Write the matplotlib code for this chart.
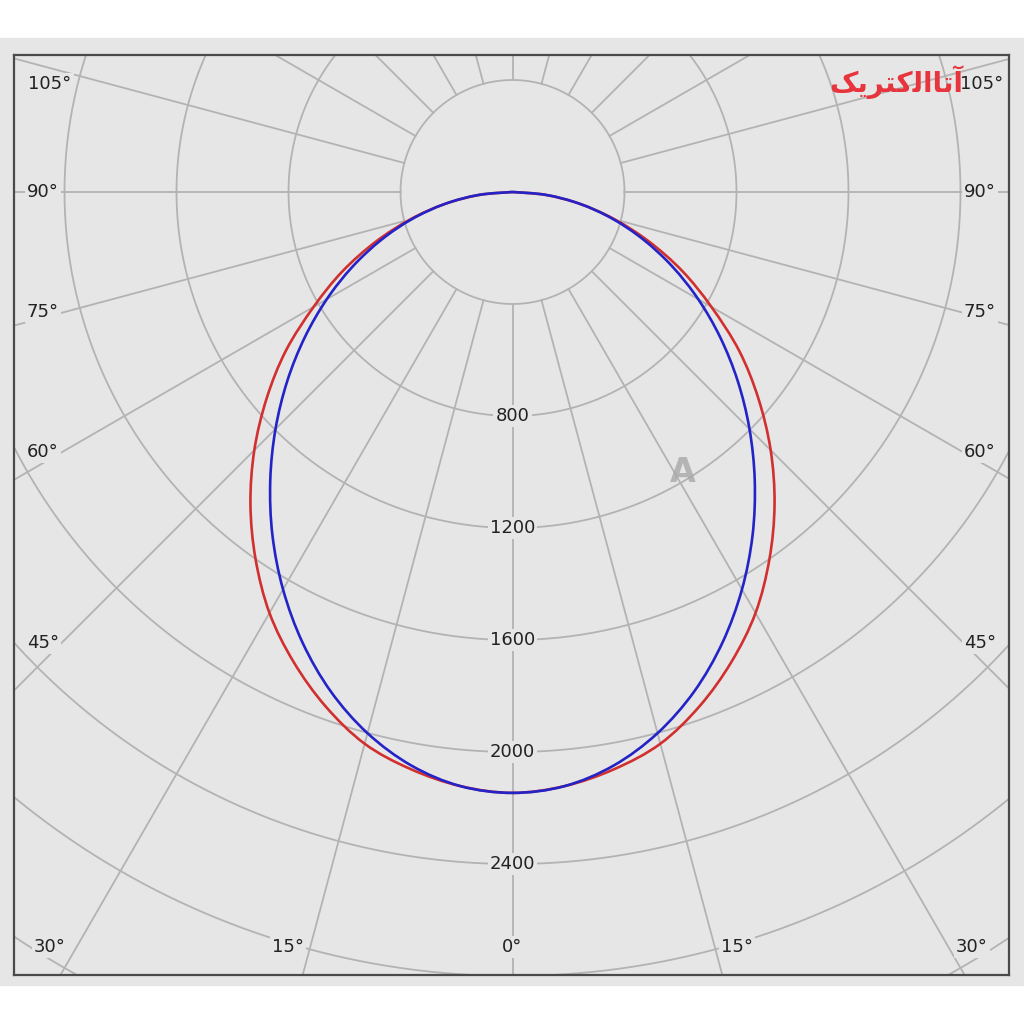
import numpy as np
import matplotlib.pyplot as plt
from matplotlib.patches import Rectangle, PathPatch
from matplotlib.path import Path

# luminous intensity (cd), symmetric about 0 deg
angles = [0, 5, 10, 15, 20, 25, 30, 35, 40, 45, 50, 55, 60, 65, 70, 75, 80, 85, 90]
red_cd = [2146, 2130, 2093, 2040, 1954, 1851, 1736, 1600, 1456, 1304, 1146, 988, 820, 670, 520, 378, 245, 118, 0]
blue_cd = [2146, 2130, 2080, 2001, 1898, 1775, 1639, 1495, 1346, 1197, 1050, 906, 766, 630, 498, 370, 245, 122, 0]

ring_values = [400, 800, 1200, 1600, 2000, 2400, 2800, 3200, 3600, 4000]
ring_labels = [800, 1200, 1600, 2000, 2400]
spoke_angles = np.arange(0, 360, 15)

bg = "#e6e6e6"
grid_c = "#b3b3b3"

# pixel <-> data helpers (center of the diagram at pixel 512.5, 192)
cx, cy = 512.5, 192.0
k = 400 / 112.0  # cd per pixel


def px(x, y):
    return (x - cx) * k, (cy - y) * k


def smooth_path(xs, ys):
    # catmull-rom through the points, drawn as cubic bezier segments
    P = np.column_stack([xs, ys])
    verts = [P[0]]
    codes = [Path.MOVETO]
    n = len(P)
    for i in range(n - 1):
        p0 = P[max(i - 1, 0)]
        p1 = P[i]
        p2 = P[i + 1]
        p3 = P[min(i + 2, n - 1)]
        verts += [p1 + (p2 - p0) / 6, p2 - (p3 - p1) / 6, p2]
        codes += [Path.CURVE4] * 3
    return Path(verts, codes)


fig = plt.figure(figsize=(10.24, 10.24), dpi=100)
fig.patch.set_facecolor("white")
fig.add_artist(Rectangle((0, 1 - 985 / 1024), 1, (985 - 38) / 1024,
                         transform=fig.transFigure, color=bg, zorder=-10))

ax = fig.add_axes([14 / 1024, 1 - 975 / 1024, 995 / 1024, 920 / 1024])
ax.set_zorder(2)
ax.set_facecolor(bg)
x0, y1 = px(14, 55)
x1, y0 = px(1009, 975)
ax.set_xlim(x0, x1)
ax.set_ylim(y0, y1)
ax.set_xticks([])
ax.set_yticks([])
for s in ax.spines.values():
    s.set_color("#4a4a4a")
    s.set_linewidth(1.6)

t = np.linspace(0, 2 * np.pi, 720)
for r in ring_values:
    ax.plot(r * np.cos(t), r * np.sin(t), color=grid_c, lw=1.3, zorder=1)
for a in spoke_angles:
    th = np.radians(a)
    ax.plot([400 * np.sin(th), 4000 * np.sin(th)],
            [-400 * np.cos(th), -4000 * np.cos(th)], color=grid_c, lw=1.3, zorder=1)

# curves: theta measured from straight down, closed through the centre
th = np.radians(angles)
for vals, col in [(red_cd, "#d22f2f"), (blue_cd, "#2323c8")]:
    v = np.array(vals, dtype=float)
    full_th = np.concatenate([-th[::-1], th[1:]])
    full_r = np.concatenate([v[::-1], v[1:]])
    xs = full_r * np.sin(full_th)
    ys = -full_r * np.cos(full_th)
    ax.add_patch(PathPatch(smooth_path(xs, ys), facecolor="none", edgecolor=col,
                           lw=1.9, zorder=3))

box = dict(facecolor=bg, edgecolor="none", pad=1.5)
font = dict(fontsize=13, color="#222222", family="DejaVu Sans", zorder=4)
for r in ring_labels:
    ax.text(0, -r, str(r), ha="center", va="center", bbox=box, **font)

angle_labels = [
    ("105°", 50, 84), ("90°", 43, 192), ("75°", 43, 312), ("60°", 43, 452),
    ("45°", 43, 643), ("30°", 50, 947), ("15°", 288, 947), ("0°", 512, 947),
    ("15°", 737, 947), ("30°", 972, 947), ("105°", 982, 84), ("90°", 980, 192),
    ("75°", 980, 312), ("60°", 980, 452), ("45°", 980, 643),
]
for lab, lx, ly in angle_labels:
    xx, yy = px(lx, ly)
    ax.text(xx, yy, lab, ha="center", va="center", bbox=box, **font)

# watermarks
wx, wy = px(683, 472)
ax.text(wx, wy, "A", ha="center", va="center", fontsize=24, fontweight="bold",
        color="#a8a8a8", alpha=0.8, zorder=2)
lx, ly = px(896, 82)
ax.text(lx, ly, "\uFB8F\uFBFE\uFEAE\uFE98\uFB90\uFEDF\uFE8D\uFE8E\uFE97\uFE81",
        ha="center", va="center", fontsize=20, fontweight="bold",
        color="#e8343c", family="DejaVu Sans", zorder=5)

fig.savefig("out.png", dpi=100, facecolor=fig.get_facecolor())
